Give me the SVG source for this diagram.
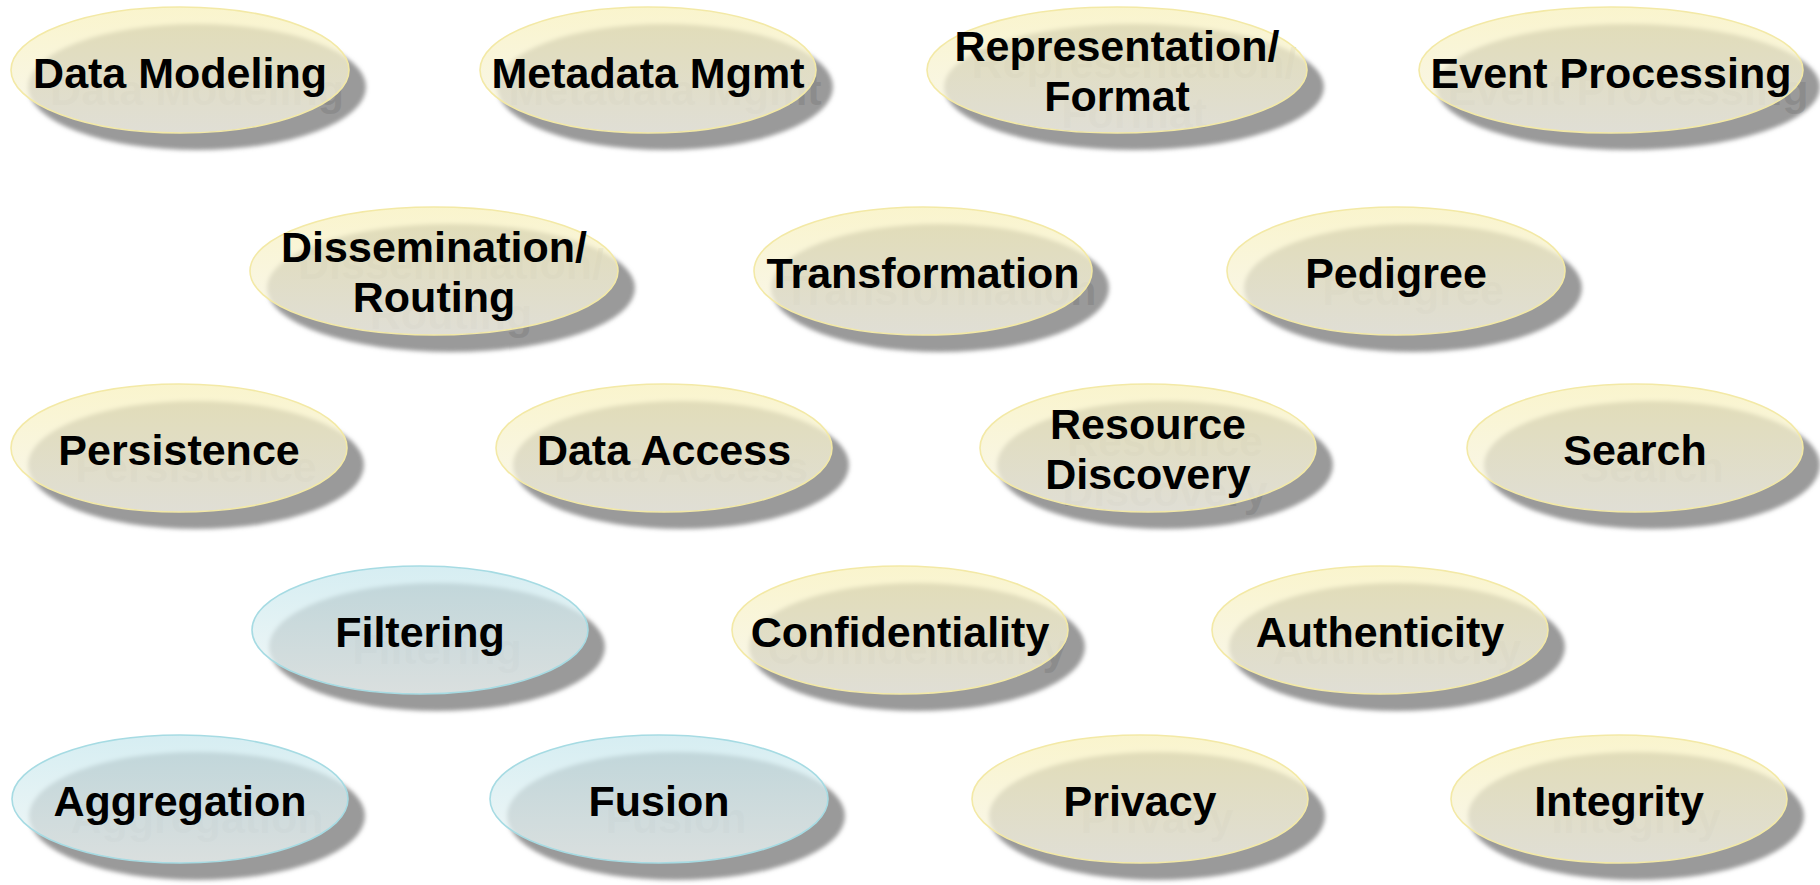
<svg xmlns="http://www.w3.org/2000/svg" width="1820" height="885" viewBox="0 0 1820 885">
<style>
.shadow{fill:#9a9a9a;filter:url(#blur)}
.ghost{font-family:"Liberation Sans",Arial,sans-serif;font-weight:bold;font-size:43px;fill:#707070;fill-opacity:0.32;text-anchor:middle}
.y{fill:url(#gy);fill-opacity:0.76;stroke:#f3e9a6;stroke-width:1.6}
.b{fill:url(#gb);fill-opacity:0.76;stroke:#a6dbe3;stroke-width:1.6}
.lbl{font-family:"Liberation Sans",Arial,sans-serif;font-weight:bold;font-size:43px;fill:#000;text-anchor:middle}
</style>
<defs>
<linearGradient id="gy" x1="0" y1="0" x2="0" y2="1">
<stop offset="0" stop-color="#f8f1bd"/>
<stop offset="1" stop-color="#f6f4e8"/>
</linearGradient>
<linearGradient id="gb" x1="0" y1="0" x2="0" y2="1">
<stop offset="0" stop-color="#c9e8ee"/>
<stop offset="1" stop-color="#eef5f4"/>
</linearGradient>
<filter id="blur" x="-10%" y="-20%" width="120%" height="140%">
<feGaussianBlur stdDeviation="2"/>
</filter>
</defs>
<rect width="1820" height="885" fill="#ffffff"/>
<g id="connectors"></g>

<g id="node-data-modeling">
<ellipse class="shadow" cx="197" cy="87" rx="169" ry="63"/>
<text class="ghost" x="197" y="105">Data Modeling</text>
<ellipse class="y" cx="180" cy="70" rx="169" ry="63"/>
<text class="lbl" x="180" y="88">Data Modeling</text>
</g>

<g id="node-metadata-mgmt">
<ellipse class="shadow" cx="665" cy="87" rx="168" ry="63"/>
<text class="ghost" x="665" y="105">Metadata Mgmt</text>
<ellipse class="y" cx="648" cy="70" rx="168" ry="63"/>
<text class="lbl" x="648" y="88">Metadata Mgmt</text>
</g>

<g id="node-representation-format">
<ellipse class="shadow" cx="1134" cy="87" rx="190" ry="63"/>
<text class="ghost" x="1134" y="78">Representation/</text>
<text class="ghost" x="1134" y="128">Format</text>
<ellipse class="y" cx="1117" cy="70" rx="190" ry="63"/>
<text class="lbl" x="1117" y="61">Representation/</text>
<text class="lbl" x="1117" y="111">Format</text>
</g>

<g id="node-event-processing">
<ellipse class="shadow" cx="1628" cy="87" rx="192" ry="63"/>
<text class="ghost" x="1628" y="105">Event Processing</text>
<ellipse class="y" cx="1611" cy="70" rx="192" ry="63"/>
<text class="lbl" x="1611" y="88">Event Processing</text>
</g>

<g id="node-dissemination-routing">
<ellipse class="shadow" cx="451" cy="288" rx="184" ry="64"/>
<text class="ghost" x="451" y="279">Dissemination/</text>
<text class="ghost" x="451" y="329">Routing</text>
<ellipse class="y" cx="434" cy="271" rx="184" ry="64"/>
<text class="lbl" x="434" y="262">Dissemination/</text>
<text class="lbl" x="434" y="312">Routing</text>
</g>

<g id="node-transformation">
<ellipse class="shadow" cx="940" cy="288" rx="169" ry="64"/>
<text class="ghost" x="940" y="305">Transformation</text>
<ellipse class="y" cx="923" cy="271" rx="169" ry="64"/>
<text class="lbl" x="923" y="288">Transformation</text>
</g>

<g id="node-pedigree">
<ellipse class="shadow" cx="1413" cy="288" rx="169" ry="64"/>
<text class="ghost" x="1413" y="305">Pedigree</text>
<ellipse class="y" cx="1396" cy="271" rx="169" ry="64"/>
<text class="lbl" x="1396" y="288">Pedigree</text>
</g>

<g id="node-persistence">
<ellipse class="shadow" cx="196" cy="465" rx="168" ry="64"/>
<text class="ghost" x="196" y="482">Persistence</text>
<ellipse class="y" cx="179" cy="448" rx="168" ry="64"/>
<text class="lbl" x="179" y="465">Persistence</text>
</g>

<g id="node-data-access">
<ellipse class="shadow" cx="681" cy="465" rx="168" ry="64"/>
<text class="ghost" x="681" y="482">Data Access</text>
<ellipse class="y" cx="664" cy="448" rx="168" ry="64"/>
<text class="lbl" x="664" y="465">Data Access</text>
</g>

<g id="node-resource-discovery">
<ellipse class="shadow" cx="1165" cy="465" rx="168" ry="64"/>
<text class="ghost" x="1165" y="456">Resource</text>
<text class="ghost" x="1165" y="506">Discovery</text>
<ellipse class="y" cx="1148" cy="448" rx="168" ry="64"/>
<text class="lbl" x="1148" y="439">Resource</text>
<text class="lbl" x="1148" y="489">Discovery</text>
</g>

<g id="node-search">
<ellipse class="shadow" cx="1652" cy="465" rx="168" ry="64"/>
<text class="ghost" x="1652" y="482">Search</text>
<ellipse class="y" cx="1635" cy="448" rx="168" ry="64"/>
<text class="lbl" x="1635" y="465">Search</text>
</g>

<g id="node-filtering">
<ellipse class="shadow" cx="437" cy="647" rx="168" ry="64"/>
<text class="ghost" x="437" y="664">Filtering</text>
<ellipse class="b" cx="420" cy="630" rx="168" ry="64"/>
<text class="lbl" x="420" y="647">Filtering</text>
</g>

<g id="node-confidentiality">
<ellipse class="shadow" cx="917" cy="647" rx="168" ry="64"/>
<text class="ghost" x="917" y="664">Confidentiality</text>
<ellipse class="y" cx="900" cy="630" rx="168" ry="64"/>
<text class="lbl" x="900" y="647">Confidentiality</text>
</g>

<g id="node-authenticity">
<ellipse class="shadow" cx="1397" cy="647" rx="168" ry="64"/>
<text class="ghost" x="1397" y="664">Authenticity</text>
<ellipse class="y" cx="1380" cy="630" rx="168" ry="64"/>
<text class="lbl" x="1380" y="647">Authenticity</text>
</g>

<g id="node-aggregation">
<ellipse class="shadow" cx="197" cy="816" rx="168" ry="64"/>
<text class="ghost" x="197" y="833">Aggregation</text>
<ellipse class="b" cx="180" cy="799" rx="168" ry="64"/>
<text class="lbl" x="180" y="816">Aggregation</text>
</g>

<g id="node-fusion">
<ellipse class="shadow" cx="676" cy="816" rx="169" ry="64"/>
<text class="ghost" x="676" y="833">Fusion</text>
<ellipse class="b" cx="659" cy="799" rx="169" ry="64"/>
<text class="lbl" x="659" y="816">Fusion</text>
</g>

<g id="node-privacy">
<ellipse class="shadow" cx="1157" cy="816" rx="168" ry="64"/>
<text class="ghost" x="1157" y="833">Privacy</text>
<ellipse class="y" cx="1140" cy="799" rx="168" ry="64"/>
<text class="lbl" x="1140" y="816">Privacy</text>
</g>

<g id="node-integrity">
<ellipse class="shadow" cx="1636" cy="816" rx="168" ry="64"/>
<text class="ghost" x="1636" y="833">Integrity</text>
<ellipse class="y" cx="1619" cy="799" rx="168" ry="64"/>
<text class="lbl" x="1619" y="816">Integrity</text>
</g>
</svg>
